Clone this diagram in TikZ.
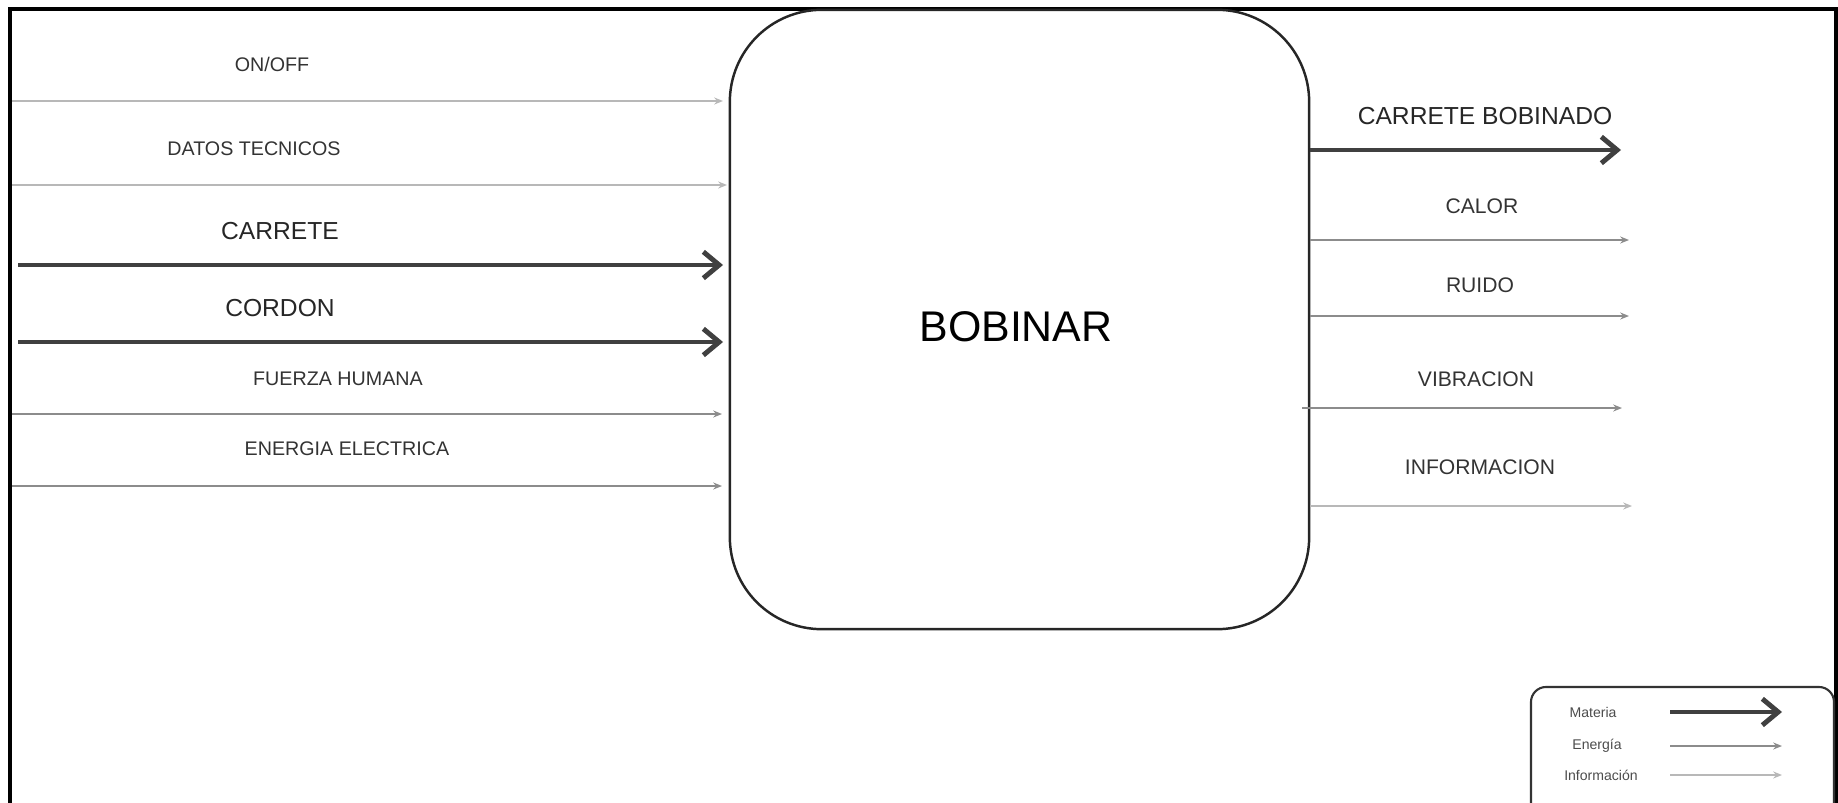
\documentclass[tikz,border=0pt]{standalone}
\usepackage{fontspec}
\setmainfont{Liberation Sans}
\usetikzlibrary{arrows.meta}
\tikzset{
  mat/.style={line width=1.4pt, draw=black!75, -{Straight Barb[length=4.5pt,width=7.5pt]}},
  ene/.style={line width=0.55pt, draw=black!45, -{Stealth[length=2.5pt,width=2pt]}},
  inf/.style={line width=0.55pt, draw=black!28, -{Stealth[length=2.5pt,width=2pt]}},
  biglbl/.style={font=\fontsize{7}{8}\selectfont, text=black!85, inner sep=0pt},
  smlbl/.style={font=\fontsize{5.6}{7}\selectfont, text=black!80, inner sep=0pt},
  rlbl/.style={font=\fontsize{6}{7}\selectfont, text=black!80, inner sep=0pt},
  leglbl/.style={font=\fontsize{4}{5}\selectfont, text=black!70, inner sep=0pt},
  procbox/.style={draw=black!85, line width=0.7pt, rounded corners=0.92cm, minimum width=5.79cm, minimum height=6.19cm, inner sep=0pt},
}
\begin{document}
\begin{tikzpicture}[x=0.01cm,y=-0.01cm]
\useasboundingbox (0,0) rectangle (1838,803);
\begin{scope}
\clip (0,0) rectangle (1838,803);
\draw[line width=1pt, black] (10,9) rectangle (1836,840);
\draw[line width=0.6pt, black!80, rounded corners=0.15cm] (1531,687) rectangle (1834,830);
\end{scope}

\node[procbox] (bob) at (1019.5,319.5) {};
\node[font=\fontsize{12.2}{14}\selectfont, inner sep=0pt] (bobtxt) at (1016,327) {BOBINAR};

% inputs
\coordinate (s1) at (12,101);  \coordinate (e1) at (723,101);
\coordinate (s2) at (12,185);  \coordinate (e2) at (727,185);
\coordinate (s3) at (18,265);  \coordinate (e3) at (723,265);
\coordinate (s4) at (18,342);  \coordinate (e4) at (723,342);
\coordinate (s5) at (12,414);  \coordinate (e5) at (722,414);
\coordinate (s6) at (12,486);  \coordinate (e6) at (722,486);
\draw[inf] (s1) -- (e1);
\draw[inf] (s2) -- (e2);
\draw[mat] (s3) -- (e3);
\draw[mat] (s4) -- (e4);
\draw[ene] (s5) -- (e5);
\draw[ene] (s6) -- (e6);
\node[smlbl] (l1) at (272,64) {ON/OFF};
\node[smlbl] (l2) at (254,149) {DATOS TECNICOS};
\node[biglbl] (l3) at (280,231) {CARRETE};
\node[biglbl] (l4) at (280,308) {CORDON};
\node[smlbl] (l5) at (338,379) {FUERZA HUMANA};
\node[smlbl] (l6) at (347,449) {ENERGIA ELECTRICA};

% outputs
\coordinate (o1) at (1621,150);
\coordinate (o2) at (1629,240);
\coordinate (o3) at (1629,316);
\coordinate (o4) at (1622,408);
\coordinate (o5) at (1632,506);
\draw[mat] (bob.east |- o1) -- (o1);
\draw[ene] (bob.east |- o2) -- (o2);
\draw[ene] (bob.east |- o3) -- (o3);
\draw[ene] ([xshift=-0.08cm]bob.east |- o4) -- (o4);
\draw[inf] (bob.east |- o5) -- (o5);
\node[biglbl] (r1) at (1485,116) {CARRETE BOBINADO};
\node[rlbl] (r2) at (1482,206) {CALOR};
\node[rlbl] (r3) at (1480,285) {RUIDO};
\node[rlbl] (r4) at (1476,379) {VIBRACION};
\node[rlbl] (r5) at (1480,467) {INFORMACION};

% legend
\node[leglbl] (g1) at (1593,712) {Materia};
\node[leglbl] (g2) at (1597,746) {Energía};
\node[leglbl] (g3) at (1601,775) {Información};
\coordinate (ga1) at (1670,712); \coordinate (gb1) at (1782,712);
\coordinate (ga2) at (1670,746); \coordinate (gb2) at (1782,746);
\coordinate (ga3) at (1670,775); \coordinate (gb3) at (1782,775);
\draw[mat] (ga1) -- (gb1);
\draw[ene] (ga2) -- (gb2);
\draw[inf] (ga3) -- (gb3);
\end{tikzpicture}
\end{document}
